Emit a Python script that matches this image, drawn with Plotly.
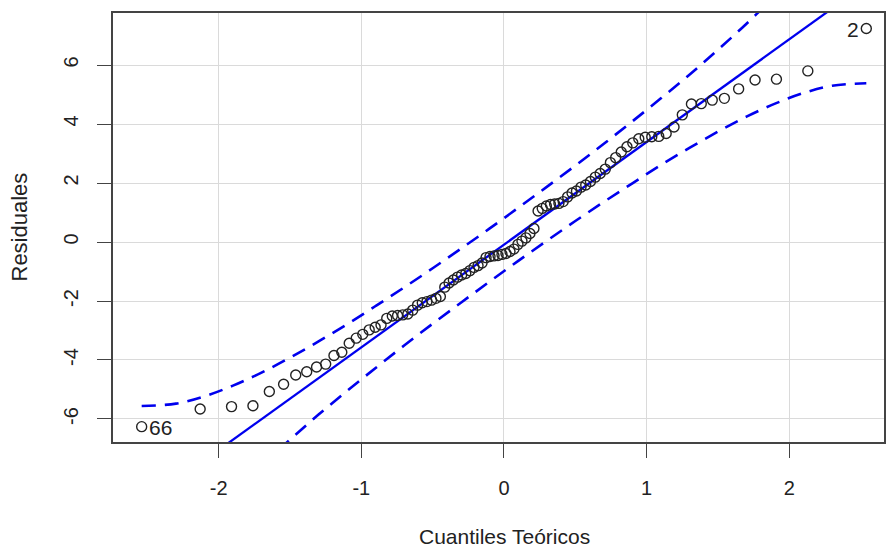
import plotly.graph_objects as go

# Theoretical normal quantiles (n = 90)
theoretical_q = [
    -2.54, -2.13, -1.91, -1.76, -1.645, -1.545, -1.46, -1.383, -1.314, -1.25,
    -1.192, -1.137, -1.085, -1.036, -0.99, -0.945, -0.903, -0.862, -0.822, -0.783,
    -0.746, -0.71, -0.674, -0.64, -0.606, -0.573, -0.54, -0.508, -0.477, -0.446,
    -0.415, -0.385, -0.355, -0.326, -0.297, -0.268, -0.239, -0.21, -0.182, -0.154,
    -0.126, -0.098, -0.07, -0.042, -0.014,
    0.014, 0.042, 0.07, 0.098, 0.126, 0.154, 0.182, 0.21, 0.239, 0.268,
    0.297, 0.326, 0.355, 0.385, 0.415, 0.446, 0.477, 0.508, 0.54, 0.573,
    0.606, 0.64, 0.674, 0.71, 0.746, 0.783, 0.822, 0.862, 0.903, 0.945,
    0.99, 1.036, 1.085, 1.137, 1.192, 1.25, 1.314, 1.383, 1.46, 1.545,
    1.645, 1.76, 1.91, 2.13, 2.54,
]

# Sorted residuals
residuals = [
    -6.26, -5.66, -5.58, -5.55, -5.07, -4.82, -4.51, -4.40, -4.24, -4.14,
    -3.85, -3.74, -3.43, -3.26, -3.13, -2.98, -2.89, -2.81, -2.59, -2.51,
    -2.49, -2.47, -2.44, -2.31, -2.14, -2.06, -2.02, -1.97, -1.91, -1.85,
    -1.53, -1.39, -1.29, -1.19, -1.12, -1.07, -0.97, -0.86, -0.80, -0.71,
    -0.53, -0.49, -0.47, -0.46, -0.42, -0.39, -0.32, -0.24, -0.08, 0.03,
    0.14, 0.29, 0.46, 1.05, 1.14, 1.22, 1.27, 1.29, 1.31, 1.37,
    1.53, 1.66, 1.73, 1.86, 1.93, 2.05, 2.20, 2.32, 2.47, 2.69,
    2.86, 3.05, 3.23, 3.36, 3.50, 3.55, 3.57, 3.58, 3.68, 3.90,
    4.31, 4.68, 4.69, 4.81, 4.87, 5.19, 5.49, 5.52, 5.80, 7.24,
]

# Reference line (read endpoints)
line_x = [-2.54, 2.54]
line_y = [-8.93, 8.75]

# Confidence envelope
band_x = [-2.54, -2.3, -2.1, -1.9, -1.7, -1.5, -1.3, -1.1, -0.9, -0.7, -0.5, -0.3, -0.1,
          0.1, 0.3, 0.5, 0.7, 0.9, 1.1, 1.3, 1.5, 1.7, 1.9, 2.1, 2.3, 2.54]
band_upper = [-5.56, -5.48, -5.23, -4.87, -4.43, -3.92, -3.37, -2.79, -2.17, -1.54, -0.89, -0.22, 0.46,
              1.16, 1.87, 2.59, 3.33, 4.09, 4.87, 5.67, 6.52, 7.40, 8.35, 9.38, 10.53, 12.12]
band_lower = [-12.30, -10.71, -9.56, -8.53, -7.58, -6.70, -5.85, -5.05, -4.27, -3.51, -2.77, -2.05, -1.34,
              -0.64, 0.04, 0.71, 1.36, 1.99, 2.61, 3.19, 3.74, 4.25, 4.69, 5.05, 5.30, 5.38]

# Labelled points
label_idx = [0, 89]
label_text = ["66", "2"]

x_ticks = [-2, -1, 0, 1, 2]
x_ticktext = ["-2", "-1", "0", "1", "2"]
y_ticks = [-6, -4, -2, 0, 2, 4, 6]
y_ticktext = ["-6", "-4", "-2", "0", "2", "4", "6"]

FONT = "Liberation Sans, Arial, sans-serif"
BLUE = "#0000EE"
INK = "#222222"

fig = go.Figure()

fig.add_trace(go.Scatter(x=band_x, y=band_upper, mode="lines",
                         line=dict(color=BLUE, width=2.6, dash="14px,9px", shape="spline"),
                         hoverinfo="skip", showlegend=False))
fig.add_trace(go.Scatter(x=band_x, y=band_lower, mode="lines",
                         line=dict(color=BLUE, width=2.6, dash="14px,9px", shape="spline"),
                         hoverinfo="skip", showlegend=False))
fig.add_trace(go.Scatter(x=line_x, y=line_y, mode="lines",
                         line=dict(color=BLUE, width=2.3),
                         hoverinfo="skip", showlegend=False))
fig.add_trace(go.Scatter(x=theoretical_q, y=residuals, mode="markers",
                         marker=dict(symbol="circle-open", size=10, color=INK,
                                     line=dict(width=1.4, color=INK)),
                         showlegend=False))

annotations = []
annotations.append(dict(x=theoretical_q[label_idx[0]], y=residuals[label_idx[0]],
                        text=label_text[0], showarrow=False, xanchor="left", yanchor="middle",
                        xshift=5, yshift=-1, font=dict(family=FONT, size=21, color=INK)))
annotations.append(dict(x=theoretical_q[label_idx[1]], y=residuals[label_idx[1]],
                        text=label_text[1], showarrow=False, xanchor="right", yanchor="middle",
                        xshift=-5, yshift=-1, font=dict(family=FONT, size=21, color=INK)))
annotations.append(dict(x=0.5, y=0, xref="paper", yref="paper", text="Cuantiles Teóricos",
                        showarrow=False, xanchor="center", yanchor="middle", yshift=-94,
                        xshift=6, font=dict(family=FONT, size=21, color=INK)))
annotations.append(dict(x=0, y=0.5, xref="paper", yref="paper", text="Residuales",
                        showarrow=False, xanchor="center", yanchor="middle", xshift=-94,
                        textangle=-90, font=dict(family=FONT, size=22, color=INK)))

fig.update_layout(
    width=886, height=550,
    margin=dict(l=113, r=0, t=13, b=108),
    paper_bgcolor="white", plot_bgcolor="white",
    font=dict(family=FONT, size=20, color=INK),
    annotations=annotations,
    xaxis=dict(range=[-2.741, 2.664], tickvals=x_ticks, ticktext=x_ticktext,
               showgrid=True, gridcolor="#dadada", gridwidth=1, zeroline=False,
               ticks="outside", ticklen=14, tickwidth=1.3, tickcolor="#444",
               showline=True, linecolor="#444", linewidth=1.5, mirror=True,
               ticklabelstandoff=13, tickfont=dict(family=FONT, size=20, color=INK)),
    yaxis=dict(range=[-6.780, 7.763], tickvals=y_ticks, ticktext=y_ticktext,
               showgrid=True, gridcolor="#dadada", gridwidth=1, zeroline=False,
               ticks="outside", ticklen=14, tickwidth=1.3, tickcolor="#444",
               showline=True, linecolor="#444", linewidth=1.5, mirror=True,
               tickangle=-90, ticklabelstandoff=11,
               tickfont=dict(family=FONT, size=20, color=INK)),
)

fig.write_html("out.html")
